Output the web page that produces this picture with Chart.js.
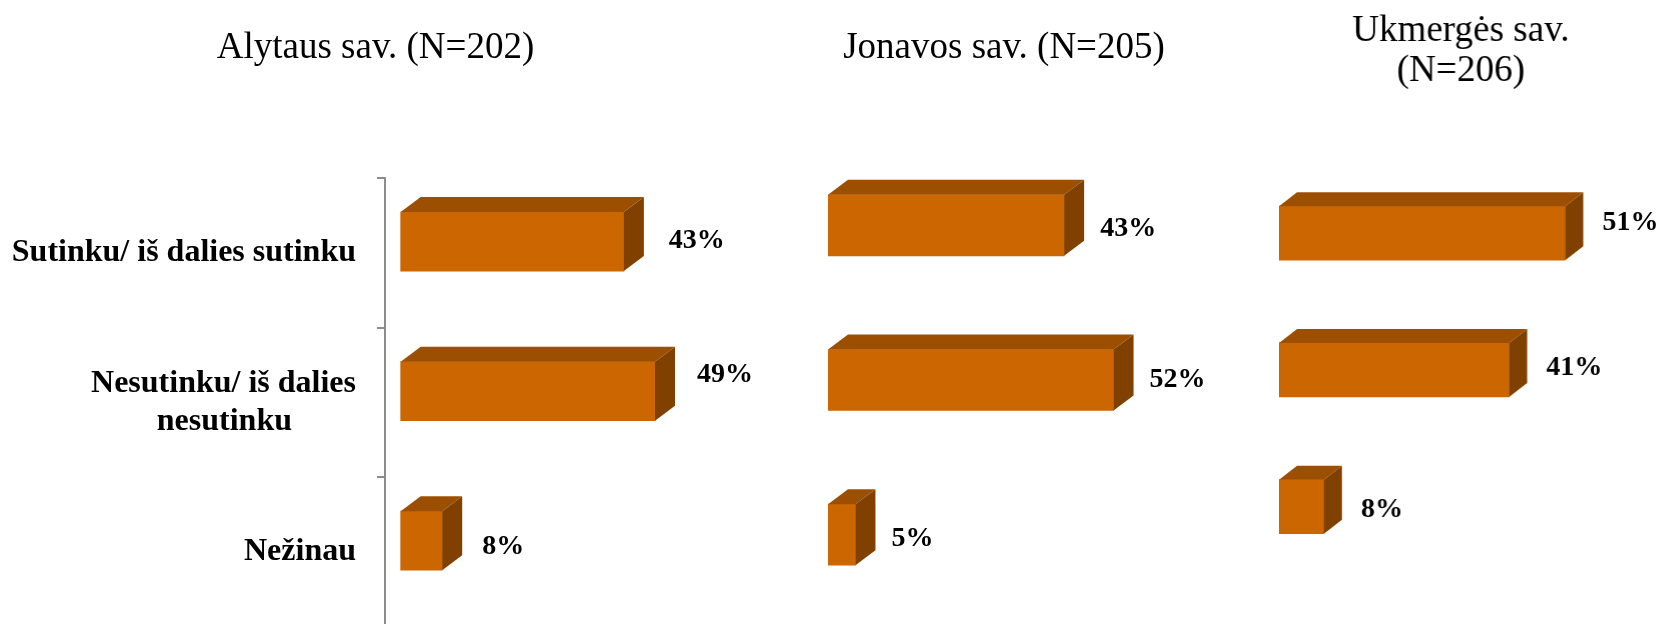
<!DOCTYPE html>
<html>
<head>
<meta charset="utf-8">
<script src="https://cdn.jsdelivr.net/npm/chart.js@4.4.0/dist/chart.umd.min.js"></script>
<style>
  html, body { margin: 0; padding: 0; background: #fff; overflow: hidden; width: 1666px; height: 624px; position: relative; }
  canvas { position: absolute; top: 0; }
</style>
</head>
<body>
<canvas id="alytus"></canvas>
<canvas id="jonava"></canvas>
<canvas id="ukmerge"></canvas>
<script>
// categories (2nd one is split in two lines, 2nd line padded so it sits centred under the 1st)
const categories = [
    'Sutinku/ iš dalies sutinku',
    ['Nesutinku/ iš dalies', 'nesutinku        '],
    'Nežinau'
];
const alytusValues = [43, 49, 8];
const jonavaValues = [43, 52, 5];
const ukmergeValues = [51, 41, 8];
const alytusTitle = 'Alytaus sav. (N=202)';
const jonavaTitle = 'Jonavos sav. (N=205)';
const ukmergeTitle = ['Ukmergės sav.', '(N=206)'];

Chart.defaults.font.family = '"Liberation Serif", "Times New Roman", serif';
Chart.defaults.color = '#000';

// fake 3d: top face + side face on each bar, then the % label
const box3d = {
    id: 'box3d',
    afterDatasetsDraw(chart, args, opts) {
        const ctx = chart.ctx;
        const meta = chart.getDatasetMeta(0);
        const data = chart.data.datasets[0].data;
        ctx.save();
        meta.data.forEach((bar, i) => {
            const { x, y, base, height } = bar.getProps(['x', 'y', 'base', 'height'], true);
            const top = y - height / 2;
            const bottom = y + height / 2;
            ctx.fillStyle = '#9c4f00';
            ctx.beginPath();
            ctx.moveTo(base, top);
            ctx.lineTo(base + opts.dx, top - opts.dy);
            ctx.lineTo(x + opts.dx, top - opts.dy);
            ctx.lineTo(x, top);
            ctx.closePath();
            ctx.fill();
            ctx.fillStyle = '#804000';
            ctx.beginPath();
            ctx.moveTo(x, top);
            ctx.lineTo(x + opts.dx, top - opts.dy);
            ctx.lineTo(x + opts.dx, bottom - opts.dy);
            ctx.lineTo(x, bottom);
            ctx.closePath();
            ctx.fill();

            // labels were hand-placed in the original, nudge a few
            const nudge = (opts.nudge && opts.nudge[i]) || [0, 0];
            ctx.fillStyle = '#000';
            ctx.font = 'bold 28px "Liberation Serif", "Times New Roman", serif';
            ctx.textBaseline = 'middle';
            ctx.textAlign = 'left';
            ctx.fillText(data[i].x + '%', x + opts.labelGap + nudge[0], y + nudge[1]);
        });
        ctx.restore();
    }
};

function makePanel(id, values, title, p) {
    const el = document.getElementById(id);
    el.width = p.width;
    el.height = p.height;
    el.style.left = p.left + 'px';
    el.style.width = p.width + 'px';
    el.style.height = p.height + 'px';

    return new Chart(el, {
        type: 'bar',
        data: {
            datasets: [{
                data: values.map((v, i) => ({ x: v, y: i })),
                backgroundColor: '#cc6600',
                borderWidth: 0,
                barThickness: p.barThickness
            }]
        },
        options: {
            indexAxis: 'y',
            responsive: false,
            animation: false,
            events: [],
            layout: { autoPadding: false, padding: { left: 0, right: p.padRight, top: 0, bottom: 0 } },
            plugins: {
                legend: { display: false },
                tooltip: { enabled: false },
                title: {
                    display: true,
                    text: title,
                    color: '#000',
                    font: { size: 37, weight: 'normal', lineHeight: p.titleLH },
                    padding: { top: p.titleTop, bottom: p.titleBottom }
                },
                box3d: { dx: p.dx, dy: p.dy, labelGap: p.labelGap, nudge: p.nudge }
            },
            scales: {
                x: { type: 'linear', min: p.xMin, max: p.xMax, display: false },
                y: { type: 'linear', offset: false, min: -0.5 + p.shift, max: 2.5 + p.shift, reverse: true, display: false },
                yl: {
                    type: 'category',
                    labels: categories,
                    position: 'left',
                    display: p.showAxis,
                    offset: true,
                    grid: { offset: true, drawOnChartArea: false, drawTicks: true, tickLength: 8, color: '#8c8c8c', lineWidth: 2 },
                    border: { display: true, color: '#8c8c8c', width: 2 },
                    ticks: {
                        color: '#000',
                        padding: 21,
                        font: { size: 32, weight: 'bold', lineHeight: 1.2 }
                    },
                    afterFit: (scale) => {
                        scale.width = p.axisWidth;
                        // axis runs off the bottom of the picture, don't let labels shrink the plot
                        scale.paddingTop = 0;
                        scale.paddingBottom = 0;
                    }
                }
            }
        },
        plugins: [box3d]
    });
}

makePanel('alytus', alytusValues, alytusTitle, {
    left: -40, width: 831, height: 627, padRight: 0, axisWidth: 425, showAxis: true,
    xMin: -3.02, xMax: 75.2, shift: 0.077, barThickness: 59,
    titleLH: 1.1, titleTop: 28.2, titleBottom: 109.4, dx: 20, dy: 15,
    labelGap: 42, nudge: [[3, -1], [0, -16], [-2, 6]]
});
makePanel('jonava', jonavaValues, jonavaTitle, {
    left: 827.7, width: 412.6, height: 612, padRight: 60, axisWidth: 0, showAxis: false,
    xMin: 0, xMax: 64.1, shift: 0, barThickness: 61,
    titleLH: 1.1, titleTop: 28.2, titleBottom: 79.1, dx: 20, dy: 15,
    labelGap: 36, nudge: [[0, 3], [0, 0], [0, 4]]
});
makePanel('ukmerge', ukmergeValues, ukmergeTitle, {
    left: 1279.3, width: 386.7, height: 575, padRight: 23.3, axisWidth: 0, showAxis: false,
    xMin: 0, xMax: 64.8, shift: 0, barThickness: 54,
    titleLH: 1.081, titleTop: 11.5, titleBottom: 73.3, dx: 18, dy: 14,
    labelGap: 37, nudge: [[0, -10], [0, -2], [0, 3]]
});
</script>
</body>
</html>
